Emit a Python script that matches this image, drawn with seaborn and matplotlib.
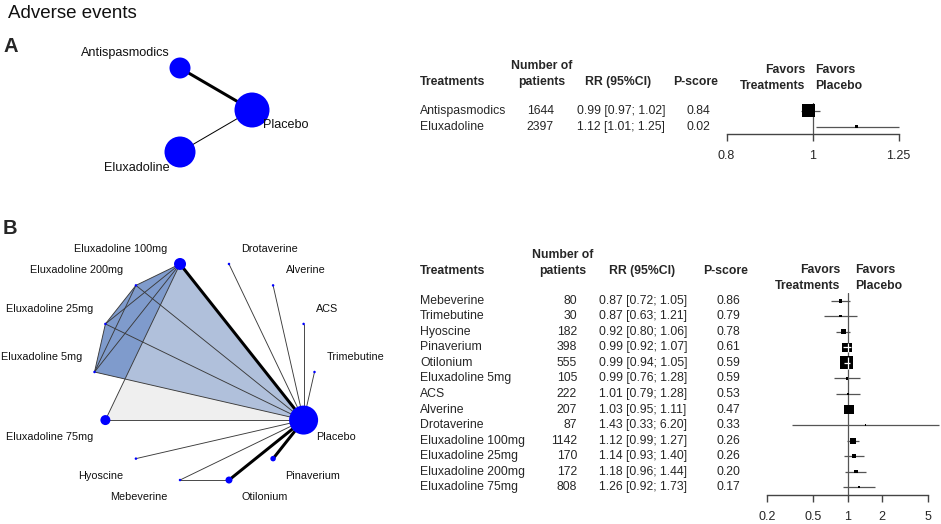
import numpy as np
import matplotlib
matplotlib.use("Agg")
import matplotlib.pyplot as plt
import matplotlib.transforms as mtransforms
from matplotlib.patches import Polygon
import seaborn as sns

# ---------------- data ----------------
title = "Adverse events"

# Panel A network
a_nodes = ["Antispasmodics", "Eluxadoline", "Placebo"]
a_edge_from = ["Antispasmodics", "Eluxadoline"]
a_edge_to = ["Placebo", "Placebo"]

# Panel A forest
a_treat = ["Antispasmodics", "Eluxadoline"]
a_n = [1644, 2397]
a_rr = [0.99, 1.12]
a_lo = [0.97, 1.01]
a_hi = [1.02, 1.25]
a_pscore = [0.84, 0.02]
a_ticks = [0.8, 1, 1.25]
a_ticklabels = ["0.8", "1", "1.25"]

# Panel B network
b_nodes = ["ACS", "Alverine", "Drotaverine", "Eluxadoline 100mg", "Eluxadoline 200mg",
           "Eluxadoline 25mg", "Eluxadoline 5mg", "Eluxadoline 75mg", "Hyoscine",
           "Mebeverine", "Otilonium", "Pinaverium", "Placebo", "Trimebutine"]
b_edge_from = ["Eluxadoline 100mg", "Eluxadoline 100mg", "Eluxadoline 100mg", "Eluxadoline 100mg",
               "Eluxadoline 100mg", "Eluxadoline 200mg", "Eluxadoline 200mg", "Eluxadoline 200mg",
               "Eluxadoline 25mg", "Eluxadoline 25mg", "Eluxadoline 5mg", "Eluxadoline 75mg",
               "Drotaverine", "Alverine", "ACS", "Trimebutine", "Hyoscine", "Mebeverine",
               "Mebeverine", "Otilonium", "Pinaverium"]
b_edge_to = ["Placebo", "Eluxadoline 200mg", "Eluxadoline 25mg", "Eluxadoline 5mg",
             "Eluxadoline 75mg", "Eluxadoline 25mg", "Eluxadoline 5mg", "Placebo",
             "Eluxadoline 5mg", "Placebo", "Placebo", "Placebo",
             "Placebo", "Placebo", "Placebo", "Placebo", "Placebo", "Placebo",
             "Otilonium", "Placebo", "Placebo"]
b_multiarm = [["Eluxadoline 100mg", "Eluxadoline 75mg", "Placebo"],
              ["Eluxadoline 100mg", "Eluxadoline 200mg", "Eluxadoline 25mg", "Eluxadoline 5mg", "Placebo"],
              ["Eluxadoline 100mg", "Eluxadoline 200mg", "Eluxadoline 25mg", "Eluxadoline 5mg", "Eluxadoline 75mg"]]

# Panel B forest
b_treat = ["Mebeverine", "Trimebutine", "Hyoscine", "Pinaverium", "Otilonium", "Eluxadoline 5mg",
           "ACS", "Alverine", "Drotaverine", "Eluxadoline 100mg", "Eluxadoline 25mg",
           "Eluxadoline 200mg", "Eluxadoline 75mg"]
b_n = [80, 30, 182, 398, 555, 105, 222, 207, 87, 1142, 170, 172, 808]
b_rr = [0.87, 0.87, 0.92, 0.99, 0.99, 0.99, 1.01, 1.03, 1.43, 1.12, 1.14, 1.18, 1.26]
b_lo = [0.72, 0.63, 0.80, 0.92, 0.94, 0.76, 0.79, 0.95, 0.33, 0.99, 0.93, 0.96, 0.92]
b_hi = [1.05, 1.21, 1.06, 1.07, 1.05, 1.28, 1.28, 1.11, 6.20, 1.27, 1.40, 1.44, 1.73]
b_pscore = [0.86, 0.79, 0.78, 0.61, 0.59, 0.59, 0.53, 0.47, 0.33, 0.26, 0.26, 0.20, 0.17]
b_ticks = [0.2, 0.5, 1, 2, 5]
b_ticklabels = ["0.2", "0.5", "1", "2", "5"]

# ---------------- style ----------------
W, H = 941, 524
PX = 72.0 / 100.0  # points per pixel
sns.set_style("white")
plt.rcParams["font.family"] = ["Liberation Sans", "DejaVu Sans"]

a_node_diam = {"Antispasmodics": 21, "Eluxadoline": 31, "Placebo": 35}
a_edge_lw = [3.0, 1.0]
a_edge_col = ["black", "black"]
b_node_diam = {n: 2.5 for n in b_nodes}
b_node_diam.update({"Placebo": 29, "Eluxadoline 100mg": 12, "Eluxadoline 75mg": 10,
                    "Otilonium": 7, "Pinaverium": 5.5})
b_thick = {("Eluxadoline 100mg", "Placebo"), ("Otilonium", "Placebo"), ("Pinaverium", "Placebo")}
b_poly_cols = ["#efefef", "#b0c0db", "#7f9bcc"]

fig = plt.figure(figsize=(W / 100, H / 100), dpi=100)


def px_axes(x0, y0, x1, y1):
    return fig.add_axes([x0 / W, 1 - y1 / H, (x1 - x0) / W, (y1 - y0) / H])


def draw_network(box, center, radius, nodes, efrom, eto, lws, cols, diam,
                 polys, poly_cols, fs, dx, dy_up, dy_dn, zero_below, clip_last=False):
    x0, y0, x1, y1 = box
    cx, cy = center
    rx, ry = radius
    ax = px_axes(*box)
    ax.set_xlim((x0 - cx) / rx, (x1 - cx) / rx)
    ax.set_ylim((cy - y1) / ry, (cy - y0) / ry)
    ax.axis("off")
    n = len(nodes)
    th = {name: 2 * np.pi * (i + 1) / n for i, name in enumerate(nodes)}
    pos = {k: (np.cos(t), np.sin(t)) for k, t in th.items()}
    patches = []
    for poly, pc in zip(polys, poly_cols):
        p = Polygon([pos[v] for v in poly], closed=True, fc=pc, ec="none", zorder=1)
        ax.add_patch(p)
        patches.append(p)
    if clip_last and len(patches) >= 2:
        patches[-1].set_clip_path(patches[-2])
    for a, b, lw, c in zip(efrom, eto, lws, cols):
        ax.plot([pos[a][0], pos[b][0]], [pos[a][1], pos[b][1]], color=c, lw=lw * PX,
                solid_capstyle="butt", zorder=2)
    xs = [pos[v][0] for v in nodes]
    ys = [pos[v][1] for v in nodes]
    ss = [(diam[v] * PX) ** 2 for v in nodes]
    sns.scatterplot(x=xs, y=ys, s=ss, color="#0000ff", linewidth=0, ax=ax,
                    legend=False, zorder=3)
    for v in nodes:
        c, s = np.cos(th[v]), np.sin(th[v])
        left = c < -1e-9
        if abs(s) < 1e-9:
            below = zero_below
        else:
            below = s < 0
        ox = -dx if left else dx
        oy = -dy_dn if below else dy_up
        ax.annotate(v, pos[v], xytext=(ox * PX, oy * PX), textcoords="offset points",
                    ha="right" if left else "left", va="center", fontsize=fs,
                    color="#111111", zorder=4)
    return ax


# Panel A network
draw_network((0, 30, 400, 200), (204, 110), (48, 48.5), a_nodes, a_edge_from, a_edge_to,
             a_edge_lw, a_edge_col, a_node_diam, [], [], 9.1, 10.5, 15, 15.5, True)

# Panel B network
b_lws = [3.0 if ((a, b) in b_thick or (b, a) in b_thick) else 0.9 for a, b in zip(b_edge_from, b_edge_to)]
b_cols = ["black" if w > 2 else "#3a3a3a" for w in b_lws]
draw_network((0, 230, 420, 515), (204.5, 372), (110, 110.8), b_nodes, b_edge_from, b_edge_to,
             b_lws, b_cols, b_node_diam, b_multiarm, b_poly_cols, 7.8, 12.5, 15, 17, False,
             clip_last=True)


def draw_forest(box, xlim, rows_top, rows_bot, treat, npat, rr, lo, hi, ps, ticks, ticklabels,
                col, hdr, fav):
    x0, y0, x1, y1 = box
    ax = px_axes(x0, y0, x1, y1)
    ax.set_xscale("log")
    ax.set_xlim(*xlim)
    ax.set_ylim(rows_bot, rows_top)
    ax.set_facecolor("none")
    for sp in ["left", "top", "right"]:
        ax.spines[sp].set_visible(False)
    ax.spines["bottom"].set_color("#444444")
    ax.spines["bottom"].set_linewidth(1.0)
    ax.spines["bottom"].set_bounds(ticks[0], ticks[-1])
    ax.set_yticks([])
    ax.set_xticks(ticks)
    ax.set_xticklabels(ticklabels)
    ax.xaxis.set_minor_locator(matplotlib.ticker.NullLocator())
    ax.tick_params(axis="x", direction="out", length=6.5 * PX, width=1.0,
                   color="#444444", labelsize=9, pad=7, bottom=True)
    ax.axvline(1, color="#555555", lw=0.9, zorder=1)
    ys = np.arange(len(treat))
    ax.hlines(ys, lo, hi, color="#555555", lw=0.9, zorder=2, clip_on=False)
    widths = np.log(np.array(hi) / np.array(lo))
    side_px = np.maximum(13.0 * widths.min() / widths, 1.2)
    sns.scatterplot(x=rr, y=ys, s=(side_px * PX) ** 2, marker="s", color="black",
                    linewidth=0, ax=ax, legend=False, zorder=3)
    # white CI / reference line drawn inside squares that contain the whole CI
    row_px = (y1 - y0) / (rows_bot - rows_top)
    for i in range(len(treat)):
        xl = ax.transData.transform((lo[i], 0))[0]
        xh = ax.transData.transform((hi[i], 0))[0]
        ci_px = (xh - xl) * 100 / fig.dpi
        if ci_px < 0.8 * side_px[i]:
            ax.hlines(i, lo[i], hi[i], color="white", lw=0.9, zorder=4)
            half = side_px[i] / 2 / row_px
            ax.vlines(1, i - half * 0.9, i + half * 0.9, color="white", lw=0.9, zorder=4)
    # table
    tr = mtransforms.blended_transform_factory(fig.transFigure, ax.transData)
    fs = 8.8
    for i in range(len(treat)):
        ax.text(col["name"] / W, i, treat[i], transform=tr, fontsize=fs, va="center", ha="left")
        ax.text(col["n"] / W, i, f"{npat[i]}", transform=tr, fontsize=fs, va="center", ha="right")
        ax.text(col["rr"] / W, i, f"{rr[i]:.2f} [{lo[i]:.2f}; {hi[i]:.2f}]", transform=tr,
                fontsize=fs, va="center", ha="left")
        ax.text(col["p"] / W, i, f"{ps[i]:.2f}", transform=tr, fontsize=fs, va="center", ha="center")
    # headers
    hy1, hy2 = hdr["y1"], hdr["y2"]
    kw = dict(fontsize=fs, fontweight="bold", va="center")
    fig.text(col["name"] / W, 1 - hy2 / H, "Treatments", ha="left", **kw)
    fig.text(hdr["nx"] / W, 1 - hy1 / H, "Number of", ha="center", **kw)
    fig.text(hdr["nx"] / W, 1 - hy2 / H, "patients", ha="center", **kw)
    fig.text(hdr["rrx"] / W, 1 - hy2 / H, "RR (95%CI)", ha="center", **kw)
    fig.text(hdr["px"] / W, 1 - hy2 / H, "P-score", ha="center", **kw)
    fig.text(fav["r"] / W, 1 - fav["y1"] / H, "Favors", ha="right", **kw)
    fig.text(fav["r"] / W, 1 - fav["y2"] / H, "Treatments", ha="right", **kw)
    fig.text(fav["l"] / W, 1 - fav["y1"] / H, "Favors", ha="left", **kw)
    fig.text(fav["l"] / W, 1 - fav["y2"] / H, "Placebo", ha="left", **kw)
    return ax


# Panel A forest
draw_forest((726.5, 103, 898.5, 134), (0.8, 1.25), -0.5, 1.45,
            a_treat, a_n, a_rr, a_lo, a_hi, a_pscore, a_ticks, a_ticklabels,
            col={"name": 420, "n": 554, "rr": 577, "p": 698},
            hdr={"y1": 66, "y2": 82, "nx": 542, "rrx": 618, "px": 696},
            fav={"r": 805, "l": 815, "y1": 70, "y2": 86})

# Panel B forest
draw_forest((767, 293, 928, 495), (0.2, 5), -0.5, 12.5,
            b_treat, b_n, b_rr, b_lo, b_hi, b_pscore, b_ticks, b_ticklabels,
            col={"name": 420, "n": 577, "rr": 599, "p": 728},
            hdr={"y1": 255, "y2": 271, "nx": 563, "rrx": 642, "px": 726},
            fav={"r": 840, "l": 855, "y1": 270, "y2": 286})

# titles / panel letters
fig.text(8 / W, 1 - 13 / H, title, fontsize=13.5, va="center", ha="left", color="#111111")
fig.text(3 / W, 1 - 46 / H, "A", fontsize=14.5, fontweight="bold", va="center", ha="left")
fig.text(3 / W, 1 - 229 / H, "B", fontsize=14.5, fontweight="bold", va="center", ha="left")

fig.savefig("out.png", dpi=100)
